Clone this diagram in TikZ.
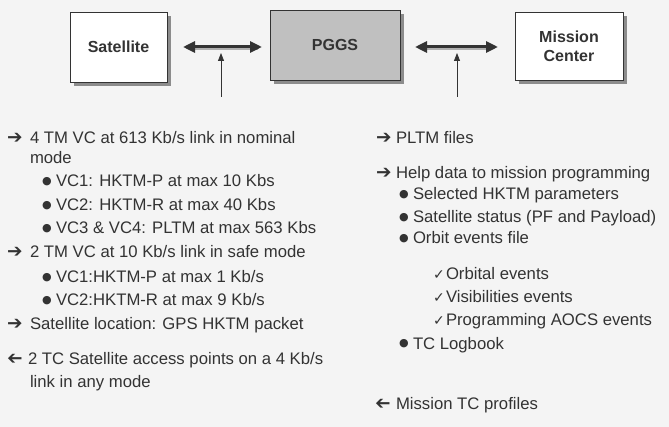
\documentclass[tikz,border=0pt]{standalone}
\usepackage{fontspec}
\setmainfont{Liberation Sans}
\newfontfamily\symfont{DejaVu Sans}
\usetikzlibrary{arrows.meta,shadows}

\definecolor{ink}{HTML}{333333}
\definecolor{pagebg}{HTML}{F4F4F4}
\definecolor{shade}{HTML}{8C8C8C}
\definecolor{hubfill}{HTML}{C0C0C0}

\begin{document}
\begin{tikzpicture}[x=1pt,y=-1pt,
  every node/.style={inner sep=0pt,outer sep=0pt},
  txt/.style={anchor=base west,font=\fontsize{16.7}{20}\selectfont,text=ink},
  rarrow/.style={anchor=base west,font=\symfont\fontsize{18.5}{20}\selectfont,text=ink},
  dotglyph/.style={anchor=center,yshift=5.5pt,font=\symfont\fontsize{11}{12}\selectfont,text=ink},
  tickglyph/.style={anchor=base west,font=\symfont\fontsize{14}{16}\selectfont,text=ink},
  blockbox/.style={draw=ink,line width=0.8pt,fill=white,
    font=\bfseries\fontsize{16}{19}\selectfont,text=ink,align=center,
    drop shadow={shadow xshift=4pt,shadow yshift=-4pt,fill=shade,opacity=1}},
  linkarrow/.style={draw=ink,line width=3pt,
    {Triangle[length=12pt,width=11pt]}-{Triangle[length=12pt,width=11pt]}},
  linkshadow/.style={draw=shade!70,line width=2pt},
  feedarrow/.style={draw=ink,line width=0.8pt,-{Triangle[length=8pt,width=6pt]}},
]
% page
\fill[pagebg] (0,0) rectangle (669,427);
\useasboundingbox (0,0) rectangle (669,427);

% blocks
\node[blockbox,minimum width=97pt,minimum height=70pt] (sat) at (118.5,47) {Satellite};
\node[blockbox,fill=hubfill,minimum width=130pt,minimum height=70pt] (pggs) at (335,45) {PGGS};
\node[blockbox,minimum width=108pt,minimum height=68pt] (mc) at (569,46) {Mission\\Center};

% two-way links
\draw[linkshadow,shorten <=22pt,shorten >=12pt] ([yshift=-2.5pt]sat.east) -- ([yshift=-2.5pt]sat.east -| pggs.west);
\draw[linkarrow,shorten <=16pt,shorten >=8pt] (sat.east) -- (sat.east -| pggs.west);
\draw[linkshadow,shorten <=21pt,shorten >=23pt] ([yshift=-4.5pt]pggs.east) -- ([yshift=-4.5pt]pggs.east -| mc.west);
\draw[linkarrow,shorten <=15pt,shorten >=17pt] ([yshift=-2pt]pggs.east) -- ([yshift=-2pt]pggs.east -| mc.west);

% data entry points
\coordinate (f1a) at (221,97);
\coordinate (f1b) at (221,53);
\coordinate (f2a) at (457,97);
\coordinate (f2b) at (457,53);
\draw[feedarrow] (f1a) -- (f1b);
\draw[feedarrow] (f2a) -- (f2b);

% satellite side
\node[rarrow] (la1) at (7,144) {➔};
\node[txt] (l1) at (30,144) {4 TM VC at 613 Kb/s link in nominal};
\node[txt] (l1c) at (30,164) {mode};
\node[dotglyph] (lb1) at (47,187) {●};
\node[txt] (l2) at (56,187) {VC1: HKTM-P at max 10 Kbs};
\node[dotglyph] (lb2) at (47,211) {●};
\node[txt] (l3) at (56,211) {VC2: HKTM-R at max 40 Kbs};
\node[dotglyph] (lb3) at (47,234) {●};
\node[txt] (l4) at (56,234) {VC3 \& VC4: PLTM at max 563 Kbs};
\node[rarrow] (la2) at (7,258) {➔};
\node[txt] (l5) at (30,258) {2 TM VC at 10 Kb/s link in safe mode};
\node[dotglyph] (lb4) at (47,283) {●};
\node[txt] (l6) at (56,283) {VC1:HKTM-P at max 1 Kb/s};
\node[dotglyph] (lb5) at (47,306) {●};
\node[txt] (l7) at (56,306) {VC2:HKTM-R at max 9 Kb/s};
\node[rarrow] (la3) at (7,330) {➔};
\node[txt] (l8) at (30,330) {Satellite location: GPS HKTM packet};
\node[rarrow] (la4) at (7,365) {\reflectbox{➔}};
\node[txt] (l9) at (28,365) {2 TC Satellite access points on a 4 Kb/s};
\node[txt] (l9c) at (30,387) {link in any mode};

% mission center side
\node[rarrow] (ra1) at (376,144) {➔};
\node[txt] (r1) at (396,144) {PLTM files};
\node[rarrow] (ra2) at (376,179) {➔};
\node[txt] (r2) at (396,179) {Help data to mission programming};
\node[dotglyph] (rb1) at (404,200) {●};
\node[txt] (r3) at (413,200) {Selected HKTM parameters};
\node[dotglyph] (rb2) at (404,223) {●};
\node[txt] (r4) at (413,223) {Satellite status (PF and Payload)};
\node[dotglyph] (rb3) at (404,244) {●};
\node[txt] (r5) at (413,244) {Orbit events file};
\node[tickglyph] (rt1) at (433,280) {✓};
\node[txt] (r6) at (446,280) {Orbital events};
\node[tickglyph] (rt2) at (433,303) {✓};
\node[txt] (r7) at (446,303) {Visibilities events};
\node[tickglyph] (rt3) at (433,326) {✓};
\node[txt] (r8) at (446,326) {Programming AOCS events};
\node[dotglyph] (rb4) at (404,349) {●};
\node[txt] (r9) at (413,349) {TC Logbook};
\node[rarrow] (ra3) at (375,409) {\reflectbox{➔}};
\node[txt] (r10) at (396,409) {Mission TC profiles};
\end{tikzpicture}
\end{document}
